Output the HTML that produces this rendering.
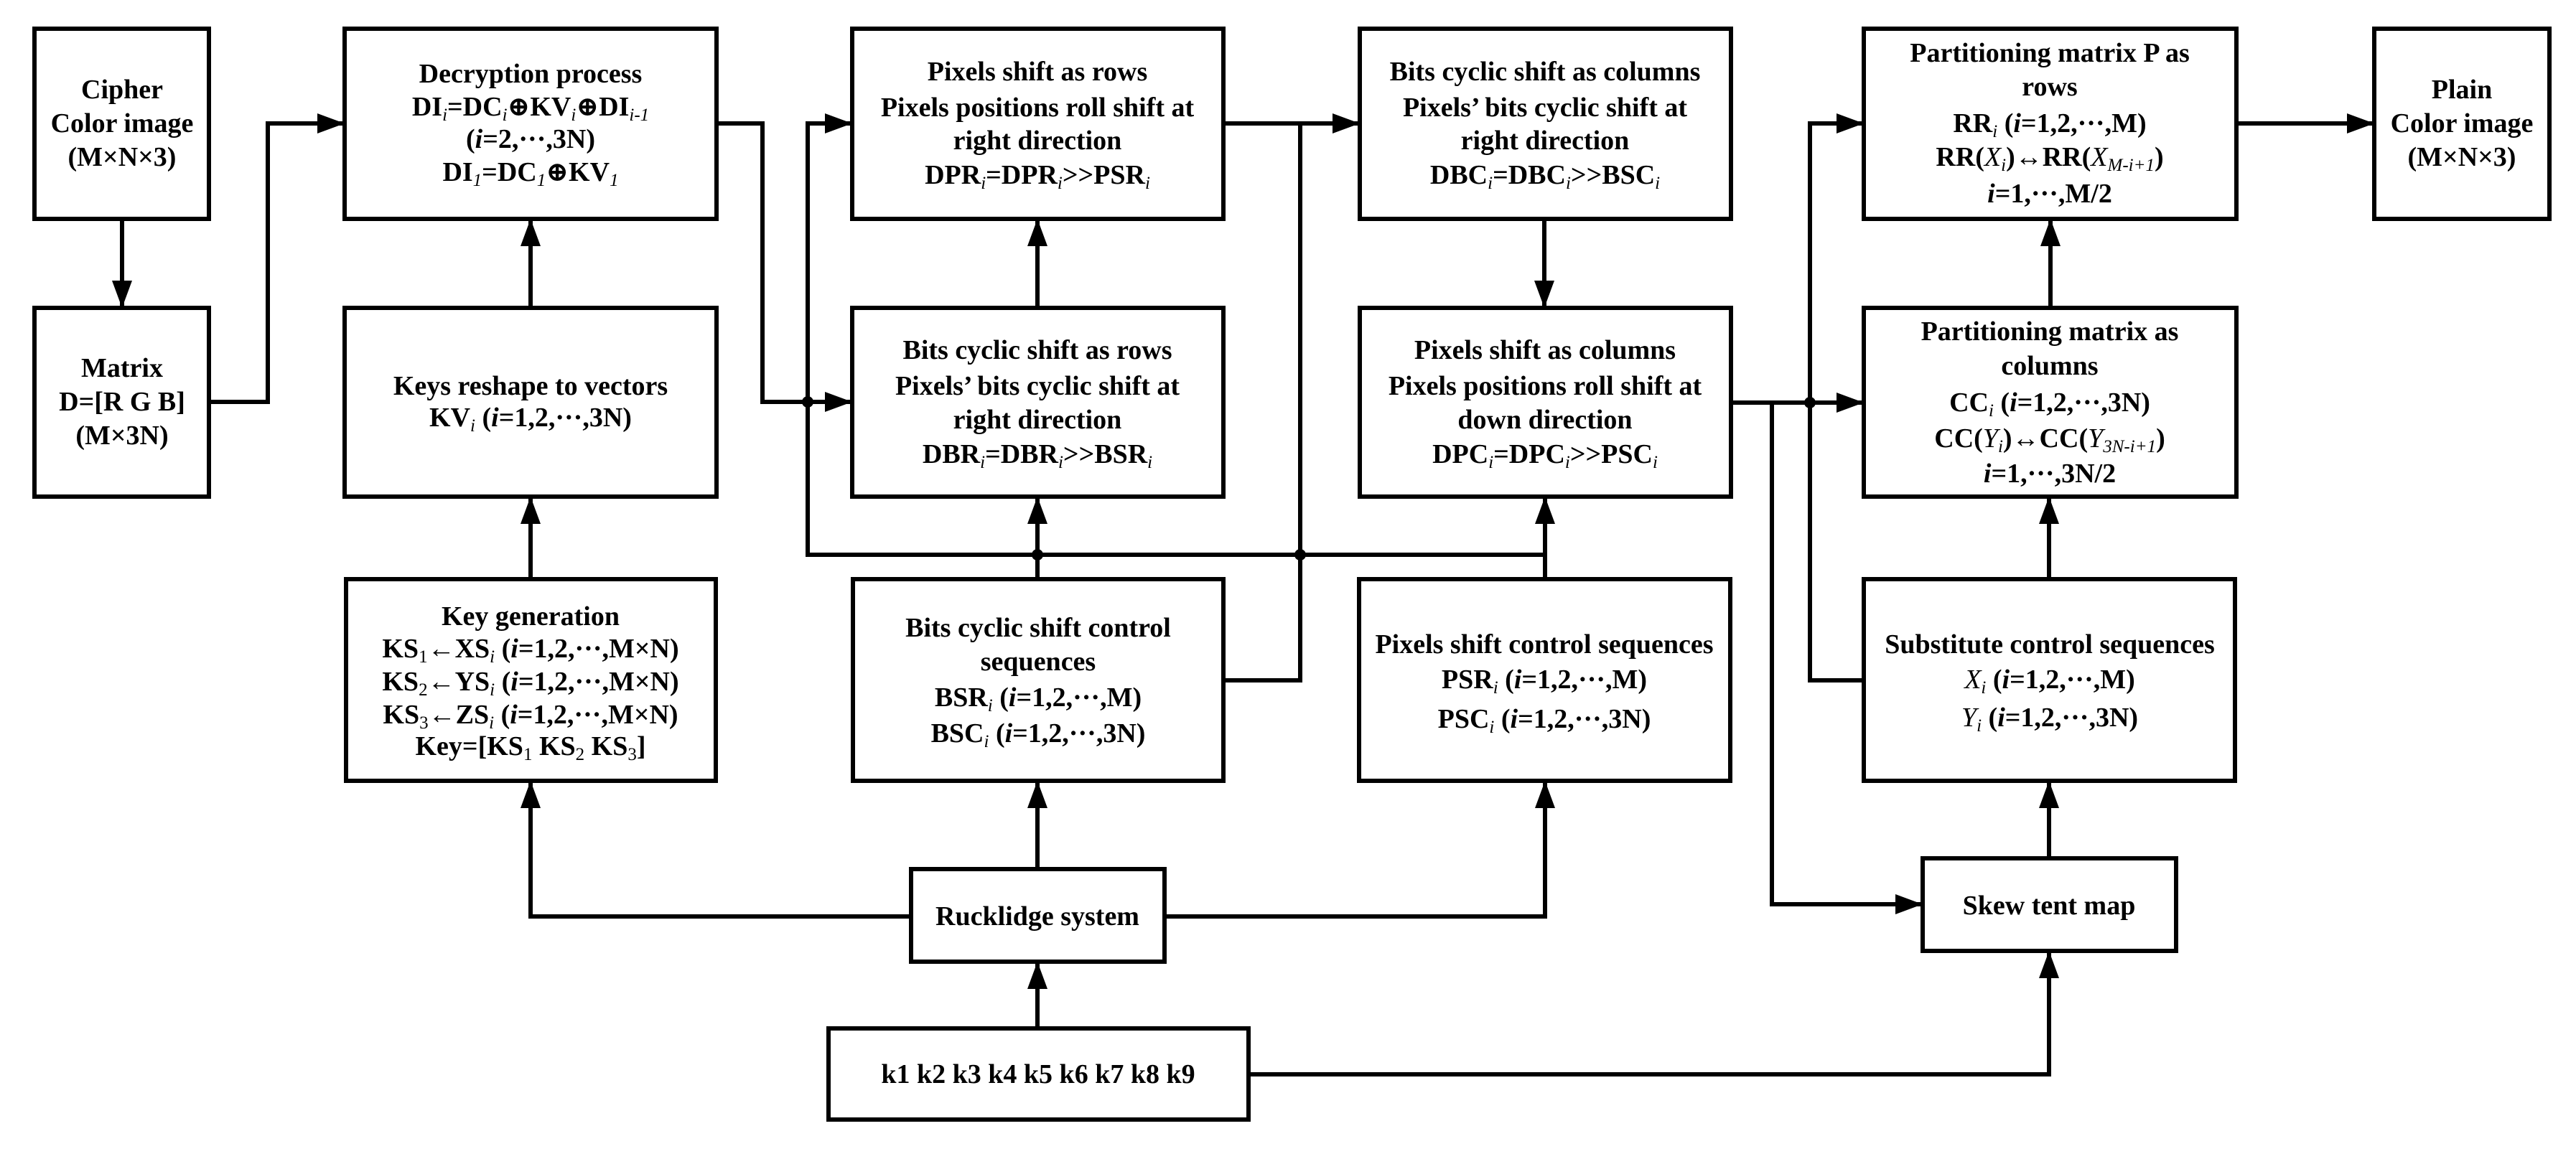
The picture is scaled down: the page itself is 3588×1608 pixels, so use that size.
<!DOCTYPE html>
<html><head><meta charset="utf-8"><style>
html,body{margin:0;padding:0;background:#fff}
svg{display:block}
text{font-family:"Liberation Serif","DejaVu Serif",serif;font-weight:bold;font-size:38px;fill:#000;text-anchor:middle}
.s{font-size:25px;font-style:italic;font-weight:normal;baseline-shift:-7px}
.sn{font-size:25px;font-weight:normal;baseline-shift:-7px}
.it{font-style:italic}
.b{fill:none;stroke:#000;stroke-width:6}
.c{fill:none;stroke:#000;stroke-width:6;stroke-linejoin:miter}
</style></head><body>
<svg width="3588" height="1608" viewBox="0 0 3588 1608" xmlns="http://www.w3.org/2000/svg">
<defs>
<marker id="a" markerUnits="userSpaceOnUse" markerWidth="40" markerHeight="28" refX="38" refY="14" orient="auto">
<path d="M0,0 L38,14 L0,28 z" fill="#000"/>
</marker>
</defs>
<!-- boxes -->
<rect class="b" x="48" y="40" width="243" height="265"/>
<rect class="b" x="48" y="429" width="243" height="263"/>
<rect class="b" x="480" y="40" width="518" height="265"/>
<rect class="b" x="480" y="429" width="518" height="263"/>
<rect class="b" x="482" y="807" width="515" height="281"/>
<rect class="b" x="1187" y="40" width="517" height="265"/>
<rect class="b" x="1187" y="429" width="517" height="263"/>
<rect class="b" x="1188" y="807" width="516" height="281"/>
<rect class="b" x="1894" y="40" width="517" height="265"/>
<rect class="b" x="1894" y="429" width="517" height="263"/>
<rect class="b" x="1893" y="807" width="517" height="281"/>
<rect class="b" x="2596" y="40" width="519" height="265"/>
<rect class="b" x="2596" y="429" width="519" height="263"/>
<rect class="b" x="2596" y="807" width="517" height="281"/>
<rect class="b" x="3307" y="40" width="244" height="265"/>
<rect class="b" x="1269" y="1211" width="353" height="129"/>
<rect class="b" x="1154" y="1433" width="585" height="127"/>
<rect class="b" x="2678" y="1196" width="353" height="129"/>

<!-- connectors -->
<path class="c" d="M170,305 V429" marker-end="url(#a)"/>
<path class="c" d="M291,560 H373 V172 H480" marker-end="url(#a)"/>
<path class="c" d="M998,172 H1062 V560 H1187" marker-end="url(#a)"/>
<path class="c" d="M2152,773 H1125 V172 H1187" marker-end="url(#a)"/>
<path class="c" d="M2152,807 V692" marker-end="url(#a)"/>
<path class="c" d="M1445,807 V692" marker-end="url(#a)"/>
<path class="c" d="M1445,429 V305" marker-end="url(#a)"/>
<path class="c" d="M739,429 V305" marker-end="url(#a)"/>
<path class="c" d="M739,807 V692" marker-end="url(#a)"/>
<path class="c" d="M1704,172 H1894" marker-end="url(#a)"/>
<path class="c" d="M1811,172 V948 H1704"/>
<path class="c" d="M2151,305 V429" marker-end="url(#a)"/>
<path class="c" d="M2411,561 H2596" marker-end="url(#a)"/>
<path class="c" d="M2468,561 V1260 H2678" marker-end="url(#a)"/>
<path class="c" d="M2596,948 H2521 V172 H2596" marker-end="url(#a)"/>
<path class="c" d="M2856,429 V305" marker-end="url(#a)"/>
<path class="c" d="M3115,172 H3307" marker-end="url(#a)"/>
<path class="c" d="M2854,807 V692" marker-end="url(#a)"/>
<path class="c" d="M2854,1196 V1088" marker-end="url(#a)"/>
<path class="c" d="M1739,1497 H2854 V1325" marker-end="url(#a)"/>
<path class="c" d="M1445,1433 V1340" marker-end="url(#a)"/>
<path class="c" d="M1445,1211 V1088" marker-end="url(#a)"/>
<path class="c" d="M1269,1277 H739 V1088" marker-end="url(#a)"/>
<path class="c" d="M1622,1277 H2152 V1088" marker-end="url(#a)"/>
<!-- junction dots -->
<circle cx="1125" cy="560" r="8"/>
<circle cx="1445" cy="773" r="8"/>
<circle cx="1811" cy="773" r="8"/>
<circle cx="2521" cy="561" r="8"/>

<!-- texts -->
<text x="170" y="137">Cipher</text>
<text x="170" y="184">Color image</text>
<text x="170" y="231">(M×N×3)</text>

<text x="170" y="525">Matrix</text>
<text x="170" y="572">D=[R G B]</text>
<text x="170" y="619">(M×3N)</text>

<text x="739" y="115">Decryption process</text>
<text x="739" y="161">DI<tspan class="s">i</tspan>=DC<tspan class="s">i</tspan>⊕KV<tspan class="s">i</tspan>⊕DI<tspan class="s">i-1</tspan></text>
<text x="739" y="206">(<tspan class="it">i</tspan>=2,···,3N)</text>
<text x="739" y="252">DI<tspan class="s">1</tspan>=DC<tspan class="s">1</tspan>⊕KV<tspan class="s">1</tspan></text>

<text x="739" y="550">Keys reshape to vectors</text>
<text x="739" y="594">KV<tspan class="s">i</tspan>  (<tspan class="it">i</tspan>=1,2,···,3N)</text>

<text x="739" y="871">Key generation</text>
<text x="739" y="916">KS<tspan class="sn">1</tspan>←XS<tspan class="s">i</tspan>  (<tspan class="it">i</tspan>=1,2,···,M×N)</text>
<text x="739" y="962">KS<tspan class="sn">2</tspan>←YS<tspan class="s">i</tspan>  (<tspan class="it">i</tspan>=1,2,···,M×N)</text>
<text x="739" y="1008">KS<tspan class="sn">3</tspan>←ZS<tspan class="s">i</tspan>  (<tspan class="it">i</tspan>=1,2,···,M×N)</text>
<text x="739" y="1052">Key=[KS<tspan class="sn">1</tspan> KS<tspan class="sn">2</tspan> KS<tspan class="sn">3</tspan>]</text>

<text x="1445" y="112">Pixels shift as rows</text>
<text x="1445" y="162">Pixels positions roll shift at</text>
<text x="1445" y="208">right direction</text>
<text x="1445" y="256">DPR<tspan class="s">i</tspan>=DPR<tspan class="s">i</tspan>&gt;&gt;PSR<tspan class="s">i</tspan></text>

<text x="1445" y="500">Bits cyclic shift as rows</text>
<text x="1445" y="550">Pixels’ bits cyclic shift at</text>
<text x="1445" y="597">right direction</text>
<text x="1445" y="645">DBR<tspan class="s">i</tspan>=DBR<tspan class="s">i</tspan>&gt;&gt;BSR<tspan class="s">i</tspan></text>

<text x="1446" y="887">Bits cyclic shift control</text>
<text x="1446" y="934">sequences</text>
<text x="1446" y="984">BSR<tspan class="s">i</tspan> (<tspan class="it">i</tspan>=1,2,···,M)</text>
<text x="1446" y="1034">BSC<tspan class="s">i</tspan> (<tspan class="it">i</tspan>=1,2,···,3N)</text>

<text x="2152" y="112">Bits cyclic shift as columns</text>
<text x="2152" y="162">Pixels’ bits cyclic shift at</text>
<text x="2152" y="208">right direction</text>
<text x="2152" y="256">DBC<tspan class="s">i</tspan>=DBC<tspan class="s">i</tspan>&gt;&gt;BSC<tspan class="s">i</tspan></text>

<text x="2152" y="500">Pixels shift as columns</text>
<text x="2152" y="550">Pixels positions roll shift at</text>
<text x="2152" y="597">down direction</text>
<text x="2152" y="645">DPC<tspan class="s">i</tspan>=DPC<tspan class="s">i</tspan>&gt;&gt;PSC<tspan class="s">i</tspan></text>

<text x="2151" y="910">Pixels shift control sequences</text>
<text x="2151" y="959">PSR<tspan class="s">i</tspan> (<tspan class="it">i</tspan>=1,2,···,M)</text>
<text x="2151" y="1014">PSC<tspan class="s">i</tspan> (<tspan class="it">i</tspan>=1,2,···,3N)</text>

<text x="2855" y="86">Partitioning matrix P as</text>
<text x="2855" y="133">rows</text>
<text x="2855" y="184">RR<tspan class="s">i</tspan>  (<tspan class="it">i</tspan>=1,2,···,M)</text>
<text x="2855" y="231">RR(<tspan class="it" font-weight="normal">X</tspan><tspan class="s">i</tspan>)↔RR(<tspan class="it" font-weight="normal">X</tspan><tspan class="s">M-i+1</tspan>)</text>
<text x="2855" y="282"><tspan class="it">i</tspan>=1,···,M/2</text>

<text x="2855" y="474">Partitioning matrix as</text>
<text x="2855" y="522">columns</text>
<text x="2855" y="573">CC<tspan class="s">i</tspan>  (<tspan class="it">i</tspan>=1,2,···,3N)</text>
<text x="2855" y="623">CC(<tspan class="it" font-weight="normal">Y</tspan><tspan class="s">i</tspan>)↔CC(<tspan class="it" font-weight="normal">Y</tspan><tspan class="s">3N-i+1</tspan>)</text>
<text x="2855" y="672"><tspan class="it">i</tspan>=1,···,3N/2</text>

<text x="2855" y="910">Substitute control sequences</text>
<text x="2855" y="959"><tspan class="it" font-weight="normal">X</tspan><tspan class="s">i</tspan> (<tspan class="it">i</tspan>=1,2,···,M)</text>
<text x="2855" y="1012"><tspan class="it" font-weight="normal">Y</tspan><tspan class="s">i</tspan> (<tspan class="it">i</tspan>=1,2,···,3N)</text>

<text x="3429" y="137">Plain</text>
<text x="3429" y="184">Color image</text>
<text x="3429" y="231">(M×N×3)</text>

<text x="1445" y="1289">Rucklidge system</text>
<text x="2854" y="1274">Skew tent map</text>
<text x="1446" y="1509">k1 k2 k3 k4 k5 k6 k7 k8 k9</text>
</svg>
</body></html>
